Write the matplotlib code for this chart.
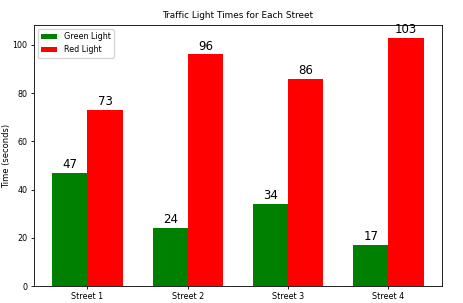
import numpy as np
import matplotlib.pyplot as plt

streets = ["Street 1", "Street 2", "Street 3", "Street 4"]
green_times = [47, 24, 34, 17]
red_times = [73, 96, 86, 103]

x = np.arange(len(streets))
width = 0.35

fig, ax = plt.subplots(figsize=(4.63, 3.03), dpi=100)
fig.subplots_adjust(left=0.073, right=0.955, bottom=0.056, top=0.917)

bars_g = ax.bar(x - width / 2, green_times, width, color="green", label="Green Light")
bars_r = ax.bar(x + width / 2, red_times, width, color="red", label="Red Light")

# value labels above bars
for bars in (bars_g, bars_r):
    for b in bars:
        ax.text(b.get_x() + b.get_width() / 2, b.get_height() + 0.7, str(int(b.get_height())),
                ha="center", va="bottom", fontsize=8.5)

ax.set_xticks(x)
ax.set_xticklabels(streets)
ax.set_ylabel("Time (seconds)", fontsize=6, labelpad=1)
ax.set_title("Traffic Light Times for Each Street", fontsize=6.4, pad=5)
ax.tick_params(labelsize=5.8, length=2.5, width=0.6, pad=2)
for s in ax.spines.values():
    s.set_linewidth(0.6)
ax.legend(fontsize=5.8, loc="upper left")

fig.savefig("out.png", dpi=100)
